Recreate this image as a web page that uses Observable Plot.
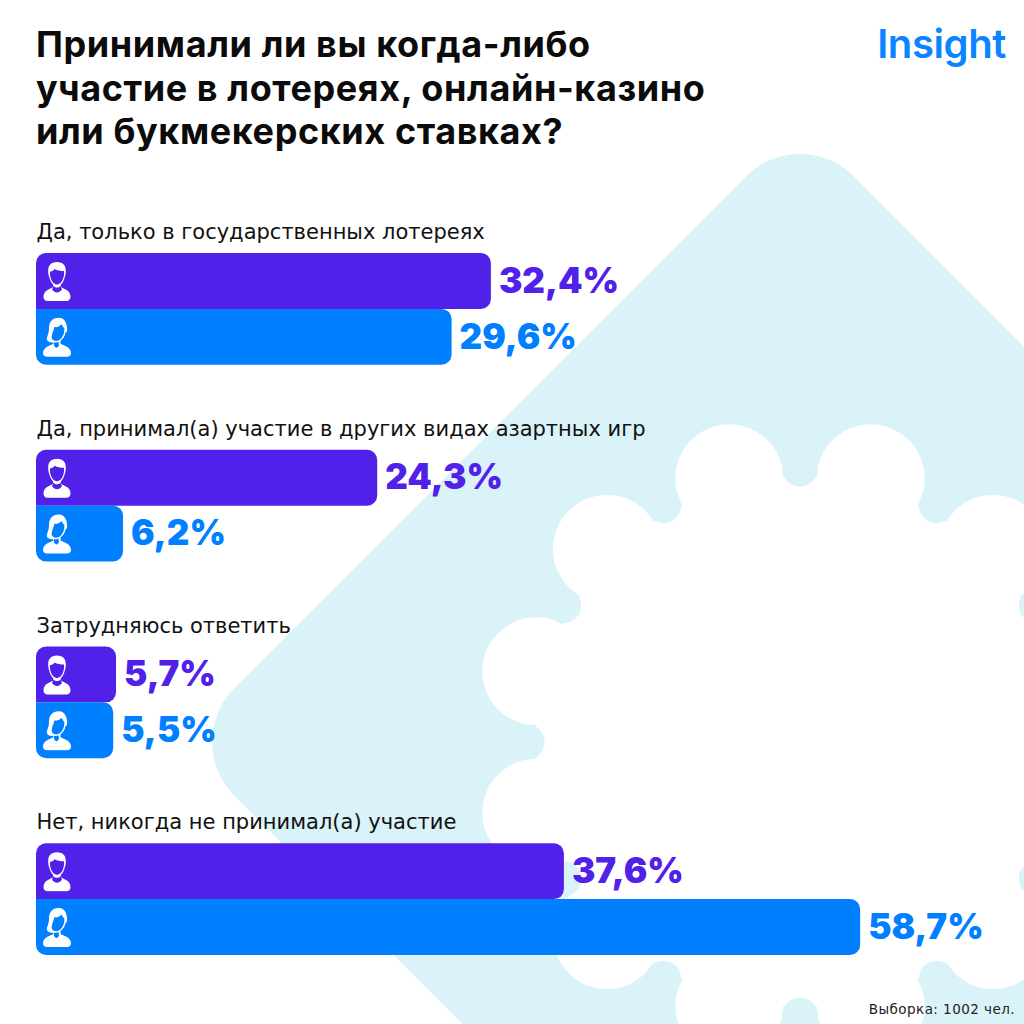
<!DOCTYPE html>
<html lang="ru">
<head>
<meta charset="utf-8">
<script src="https://cdn.jsdelivr.net/npm/d3@7"></script>
<script src="https://cdn.jsdelivr.net/npm/@observablehq/plot@0.6"></script>
<style>
html,body{margin:0;padding:0;background:#fff;width:1024px;height:1024px;overflow:hidden}
#page{position:relative;width:1024px;height:1024px}
#bg,#chart{position:absolute;left:0;top:0}
#bg{width:1024px;height:1024px}
h1{position:absolute;left:36px;top:23px;margin:0;font:700 36px/43.5px Inter,sans-serif;color:#0b0b0b;letter-spacing:.6px;white-space:nowrap}
#brand{position:absolute;right:18px;top:19px;font:600 40px/50px Inter,sans-serif;color:#0a84ff;letter-spacing:-.4px}
#note{position:absolute;right:9px;top:1000px;font:400 13.5px/18px "DejaVu Sans",sans-serif;color:#222;letter-spacing:.45px}
g[aria-label="question"] text{letter-spacing:1.55px}
g[aria-label="value"] text{letter-spacing:.6px}
</style>
</head>
<body>
<div id="page">
<svg id="bg" viewBox="0 0 1024 1024" aria-hidden="true"></svg>
<div id="chart"></div>
<h1>Принимали ли вы когда-либо<br>участие в лотереях, онлайн-казино<br>или букмекерских ставках?</h1>
<div id="brand">Insight</div>
<div id="note">Выборка: 1002 чел.</div>
</div>
<script>
const questions = [
  "Да, только в государственных лотереях",
  "Да, принимал(а) участие в других видах азартных игр",
  "Затрудняюсь ответить",
  "Нет, никогда не принимал(а) участие"
];
const series = ["Мужчины", "Женщины"];
const menValues = [32.4, 24.3, 5.7, 37.6];
const womenValues = [29.6, 6.2, 5.5, 58.7];
const purple = "#5120e9";
const blue = "#0080ff";

const rows = questions.flatMap((q, i) => [
  {question: q, series: series[0], value: menValues[i]},
  {question: q, series: series[1], value: womenValues[i]}
]);
const fmt = d => d.value.toFixed(1).replace(".", ",") + "%";

// Decorative backdrop: rounded diamond with a twelve-lobed white cloud
const pale = "#d9f3f8", cx = 800, cy = 742, R = 273;
let bg = `<rect x="${cx-438}" y="${cy-438}" width="876" height="876" rx="76" fill="${pale}" transform="rotate(45 ${cx} ${cy})"/>`;
const pt = (r, deg) => [cx + r*Math.sin(deg*Math.PI/180), cy - r*Math.cos(deg*Math.PI/180)];
const lobes = d3.range(12).map(i => pt(R, 15 + i*30));
bg += `<polygon fill="#fff" points="${lobes.map(p => p.join(",")).join(" ")}"/>`;
lobes.forEach(p => { bg += `<circle cx="${p[0]}" cy="${p[1]}" r="54" fill="#fff"/>`; });
d3.range(12).forEach(i => { const p = pt(R, i*30); bg += `<circle cx="${p[0]}" cy="${p[1]}" r="17.600" fill="${pale}"/>`; });
document.getElementById("bg").innerHTML = bg;

// Person icons
const manSvg = c => `<svg xmlns="http://www.w3.org/2000/svg" viewBox="0 0 28 40">
<path fill="#fff" d="M14 .5C8 .5 5.200 4 5.200 9c0 3 .3 5 1 6.600.6 3 2.300 6.300 4 7.600v2.300L5 28.400C1.800 30 .5 32.500 .5 35.500c0 2.300 1.500 4 4 4h19c2.500 0 4-1.700 4-4 0-3-1.300-5.500-4.500-7.100l-5.200-2.900v-2.300c1.700-1.300 3.400-4.600 4-7.600.7-1.600 1-3.600 1-6.600C22.800 4 20 .5 14 .5z"/>
<path fill="${c}" d="M7 10c2 .3 3.500-.8 4.500-2.400 2.500 1.600 6 2 9.500 2 .4 3-.2 6-1.200 8.400-1 2.500-3.300 5-5.800 5s-4.800-2.500-5.800-5C7.300 15.700 6.700 13 7 10z"/>
<path fill="${c}" d="M10.500 24.500c1 1 2.300 1.500 3.500 1.500s2.500-.5 3.500-1.500l1.500 3.500c-1 1.500-3 3-5 3s-4-1.500-5-3z"/></svg>`;
const womanSvg = c => `<svg xmlns="http://www.w3.org/2000/svg" viewBox="0 0 28 40">
<path fill="#fff" d="M16 .5C9 .5 6 5 6 11c0 4-1 6-2 9-.8 2.500 .5 4.500 3 5l3.500.5v1L5 29C1.800 30.500 0 33 0 36c0 2.200 1.500 3.500 4 3.500h20c2.500 0 4-1.300 4-3.500 0-3-1.800-5.500-5-7l-5.500-2.500v-3c2.700-2 4.500-5 5-8 1.500-1 2-2.500 1.500-5C23.700 5 21 .5 16 .5z"/>
<path fill="${c}" d="M11.500 9.500c2.500 1 5.500-.5 7-2.500.8 2 1.800 3 2.800 3.800.3 2.700-.3 5.700-1.500 8-1 2.200-3 4.200-5 4.700-2.500 .5-5.300-.3-6-2.500-.7-2.500 1.700-7.500 2.700-11.500z"/>
<path fill="${c}" d="M11 25c1.500 .5 3.300 .3 4.500-.5l.5 3.500c-.5 1.500-1.500 2.500-2.500 2.500s-2-1-2.500-2.500z"/></svg>`;
const uri = s => "data:image/svg+xml;charset=utf-8," + encodeURIComponent(s);
const icons = {[series[0]]: uri(manSvg(purple)), [series[1]]: uri(womanSvg(blue))};

const plot = Plot.plot({
  width: 1024,
  height: 1024,
  marginTop: 253,
  marginBottom: 69,
  marginLeft: 36,
  marginRight: 5.2,
  style: {background: "transparent"},
  x: {domain: [0, 70], axis: null},
  y: {domain: series, axis: null, padding: 0, round: false},
  fy: {domain: questions, axis: null, paddingInner: 0.432, paddingOuter: 0, round: false},
  marks: [
    Plot.barX(rows.filter(d => d.series === series[0]), {
      x: "value", y: "series", fy: "question", fill: purple,
      rx1y1: 10, rx2y1: 10, rx2y2: 10
    }),
    Plot.barX(rows.filter(d => d.series === series[1]), {
      x: "value", y: "series", fy: "question", fill: blue,
      rx2y1: 10, rx1y2: 10, rx2y2: 10
    }),
    Plot.image(rows, {
      x: () => 0, y: "series", fy: "question", src: d => icons[d.series],
      width: 28, height: 40, dx: 20.500
    }),
    Plot.text(rows, {
      x: "value", y: "series", fy: "question", text: fmt, dx: 7.500,
      textAnchor: "start", fill: d => d.series === series[0] ? purple : blue,
      fontFamily: "Inter", fontWeight: 900, fontSize: 35,
      ariaLabel: "value"
    }),
    Plot.text(questions, {
      x: () => 0, y: () => series[0], fy: d => d, text: d => d, dy: -49,
      textAnchor: "start", fill: "#111", fontFamily: "DejaVu Sans", fontSize: 21,
      ariaLabel: "question"
    })
  ]
});
document.getElementById("chart").append(plot);
</script>
</body>
</html>
